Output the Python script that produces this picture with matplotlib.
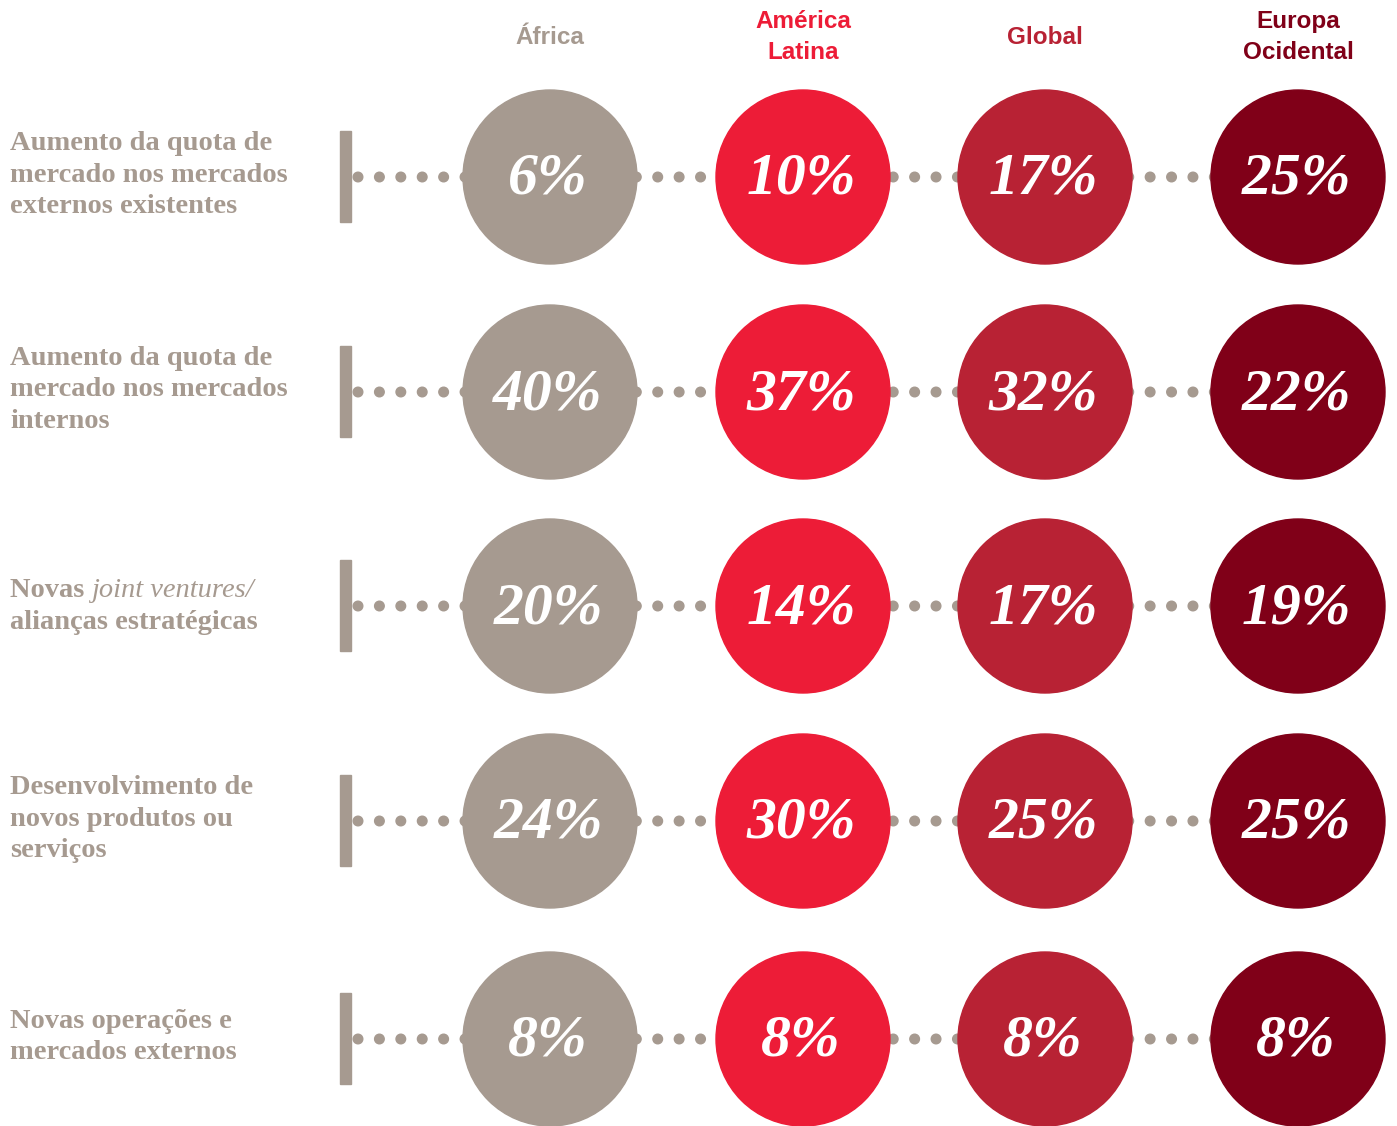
import matplotlib.pyplot as plt
from matplotlib.patches import Circle, Rectangle

regions = ['África', 'América\nLatina', 'Global', 'Europa\nOcidental']
region_colors = ['#a69a90', '#ed1c37', '#b82234', '#800018']

categories = [
    'Aumento da quota de\nmercado nos mercados\nexternos existentes',
    'Aumento da quota de\nmercado nos mercados\ninternos',
    None,  # mixed styles, drawn separately
    'Desenvolvimento de\nnovos produtos ou\nserviços',
    'Novas operações e\nmercados externos',
]

# percentages per category, columns follow `regions`
values = [
    [6, 10, 17, 25],
    [40, 37, 32, 22],
    [20, 14, 17, 19],
    [24, 30, 25, 25],
    [8, 8, 8, 8],
]

W, H = 1397, 1126
GREY = '#a69a90'
col_x = [550, 803, 1045, 1298]
row_y = [177, 392, 606, 821, 1039]
radius = 87

fig = plt.figure(figsize=(W / 100, H / 100), dpi=100)
ax = fig.add_axes([0, 0, 1, 1])
ax.set_xlim(0, W)
ax.set_ylim(H, 0)
ax.set_aspect('equal')
ax.axis('off')

label_font = dict(family='Liberation Serif', fontweight='bold', fontsize=20.5, color=GREY)

# column headers
for x, name, c in zip(col_x, regions, region_colors):
    ax.text(x, 37, name, ha='center', va='center', fontsize=17.5, fontweight='bold',
            family='Liberation Sans', color=c, linespacing=1.45)


def dots(x0, x1, y):
    n = max(int(round((x1 - x0) / 21.3)), 1)
    step = (x1 - x0) / n
    for i in range(n + 1):
        ax.add_patch(Circle((x0 + i * step, y), 4.8, color=GREY, zorder=1))


for r, (y, vals) in enumerate(zip(row_y, values)):
    # left bar and dotted leader
    ax.add_patch(Rectangle((340, y - 46), 11, 91, color=GREY, zorder=2))
    dots(358, 1300, y)
    for x, v, c in zip(col_x, vals, region_colors):
        ax.add_patch(Circle((x, y), radius, color=c, zorder=3))
        ax.text(x - 2, y + 3, f'{v}%', ha='center', va='center', color='white',
                fontsize=43, style='italic', fontweight='bold',
                family='Liberation Serif', zorder=4)

    if categories[r] is not None:
        ax.text(10, y - 2, categories[r], ha='left', va='center',
                linespacing=1.32, **label_font)

# third label: "Novas joint ventures/ alianças estratégicas"
y3 = row_y[2]
t1 = ax.text(10, y3 - 9, 'Novas ', ha='left', va='baseline', **label_font)
ax.annotate('joint ventures/', xy=(1, 0), xycoords=t1, ha='left', va='bottom',
            family='Liberation Serif', fontsize=20.5, style='italic', color=GREY)
ax.text(10, y3 + 23, 'alianças estratégicas', ha='left', va='baseline', **label_font)

plt.savefig('out.png', dpi=100)
plt.close()
